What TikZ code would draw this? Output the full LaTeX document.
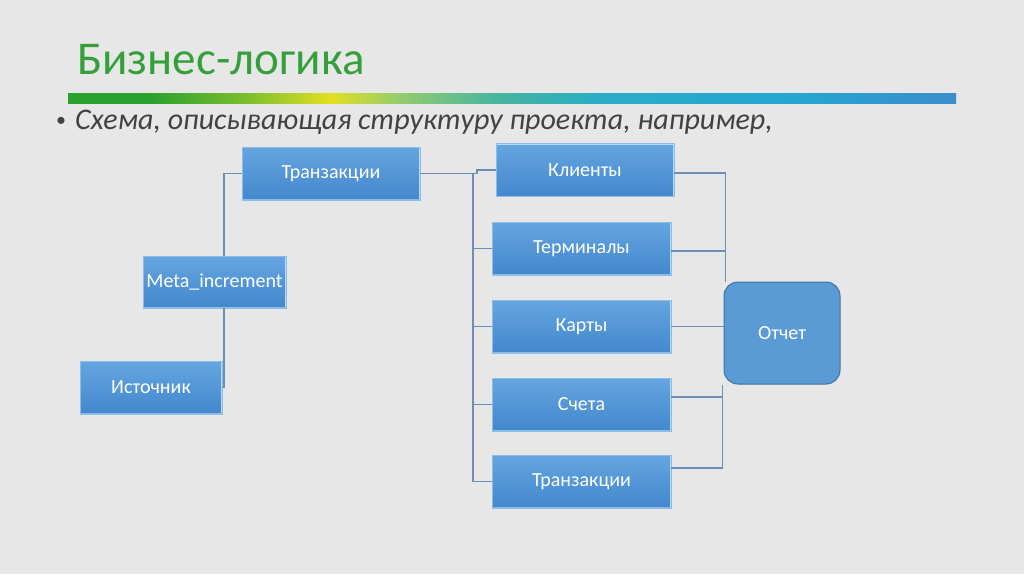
\documentclass[tikz,border=0pt]{standalone}
\usepackage{fontspec}
\setmainfont{Carlito}
\usetikzlibrary{calc}
\definecolor{bg}{HTML}{E7E7E7}
\definecolor{titlegreen}{HTML}{35A03A}
\definecolor{bodygray}{HTML}{424242}
\definecolor{boxtop}{HTML}{65A6E0}
\definecolor{boxbot}{HTML}{4387CD}
\definecolor{boxhl}{HTML}{B5DCF6}
\definecolor{boxedge}{HTML}{8CBDE6}
\definecolor{connc}{HTML}{6A8FB8}
\definecolor{otfill}{HTML}{5B9BD5}
\definecolor{otborder}{HTML}{41719C}
\definecolor{g1}{HTML}{2AA02F}
\definecolor{g2}{HTML}{7DBF2E}
\definecolor{yel}{HTML}{E3DF22}
\definecolor{lg}{HTML}{93CC6E}
\definecolor{teal}{HTML}{45B4A0}
\definecolor{cy}{HTML}{29ADC6}
\definecolor{cy2}{HTML}{22A8D2}
\definecolor{bl}{HTML}{3C8DCC}
\pgfdeclarehorizontalshading{gbar}{100bp}{color(0bp)=(g1); color(25bp)=(g1); color(29.6bp)=(g1); color(35.2bp)=(g2); color(39.75bp)=(yel); color(43.7bp)=(lg); color(49.3bp)=(teal); color(55bp)=(cy); color(65bp)=(cy2); color(75bp)=(bl); color(100bp)=(bl)}
\tikzset{
  bbox/.style={rectangle, inner sep=0pt, top color=boxtop, bottom color=boxbot,
    draw=boxedge, line width=0.6pt, text=white, font=\fontsize{20}{22}\selectfont,
    minimum width=178pt, minimum height=53pt,
    path picture={
      \draw[boxhl, line width=2.4pt] (path picture bounding box.north west) -- (path picture bounding box.north east);
      \draw[boxhl, line width=1.6pt] (path picture bounding box.north east) -- (path picture bounding box.south east);
      \draw[boxedge, line width=1.2pt] (path picture bounding box.south west) -- (path picture bounding box.south east);
    }},
  conn/.style={draw=connc, line width=1.1pt},
}
\begin{document}
\begin{tikzpicture}[x=1pt, y=-1pt]
\fill[bg] (0,0) rectangle (1024,574);
\useasboundingbox (0,0) rectangle (1024,574);

\node[anchor=base west, text=titlegreen, font=\fontsize{47}{50}\selectfont, inner sep=0pt] (title) at (77,74) {Бизнес-логика};
\shade[shading=gbar] (68,93) rectangle (956,103);
\node[anchor=base west, text=bodygray, font=\fontsize{20}{22}\selectfont, inner sep=0pt] (bul) at (56,126) {•};
\node[anchor=base west, text=bodygray, font=\fontsize{30}{32}\selectfont\itshape, inner sep=0pt] (sub) at (75,129) {Схема, описывающая структуру проекта, например,};

\node[bbox] (t1) at (331,173.5) {Транзакции};
\node[bbox, minimum width=143pt, minimum height=52pt] (meta) at (214.5,282) {Meta\_increment};
\node[bbox, minimum width=142pt] (src) at (151,387.5) {Источник};
\node[bbox] (cl) at (585,170) {Клиенты};
\node[bbox, minimum width=179pt] (te) at (581.5,248.5) {Терминалы};
\node[bbox, minimum width=179pt] (ka) at (581.5,326.5) {Карты};
\node[bbox, minimum width=179pt] (sc) at (581.5,404.5) {Счета};
\node[bbox, minimum width=179pt] (t2) at (581.5,481.5) {Транзакции};
\node[rectangle, rounded corners=14pt, fill=otfill, draw=otborder, line width=1pt,
  minimum width=116pt, minimum height=102pt, text=white, font=\fontsize{20}{22}\selectfont] (ot) at (782,333) {Отчет};

% left tree
\draw[conn] (t1.west) -| ([xshift=9.5pt]meta.north);
\draw[conn] ([xshift=9.5pt]meta.south) |- (src.east);

% trunk to the right boxes
\coordinate (trA) at (473,173.5);
\draw[conn] (t1.east) -- (trA) |- (t2.west);
\draw[conn] (trA) -- ++(4,0) |- (cl.west);
\draw[conn] (te.west) -- (te.west -| trA);
\draw[conn] (ka.west) -- (ka.west -| trA);
\draw[conn] (sc.west) -- (sc.west -| trA);

% right side to report
\coordinate (otT) at ([xshift=2pt]ot.north west);
\coordinate (otB) at ([xshift=-1pt]ot.south west);
\draw[conn] ([yshift=-3pt]cl.east) -| (otT);
\draw[conn] ([yshift=-2.5pt]te.east) -- ([yshift=-2.5pt]te.east -| otT);
\draw[conn] (ka.east) -- (ka.east -| ot.west);
\draw[conn] ([yshift=7.5pt]sc.east) -- ([yshift=7.5pt]sc.east -| otB);
\draw[conn] ([yshift=13.5pt]t2.east) -| (otB);
\end{tikzpicture}
\end{document}
